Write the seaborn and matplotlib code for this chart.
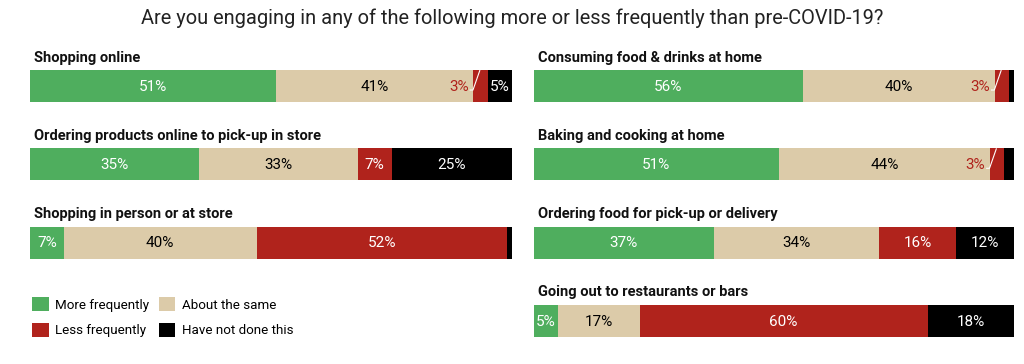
import pandas as pd
import seaborn as sns
import matplotlib.pyplot as plt
from matplotlib.patches import Patch

# ---------------- data ----------------
title = "Are you engaging in any of the following more or less frequently than pre-COVID-19?"
parts = ['More frequently', 'About the same', 'Less frequently', 'Have not done this']
colors = ['#4fae5e', '#dccba9', '#b0231c', '#000000']

left_items = ['Shopping online',
              'Ordering products online to pick-up in store',
              'Shopping in person or at store']
left_more = [51, 35, 7]
left_same = [41, 33, 40]
left_less = [3, 7, 52]
left_never = [5, 25, 1]

right_items = ['Consuming food & drinks at home',
               'Baking and cooking at home',
               'Ordering food for pick-up or delivery',
               'Going out to restaurants or bars']
right_more = [56, 51, 37.4, 5]
right_same = [40, 44, 34.4, 17]
right_less = [3, 3, 16.2, 60]
right_never = [1, 2, 12, 18]

BAR_H = 0.41
label_fonts = ['Liberation Sans Narrow', 'Roboto']


def draw_panel(ax, items, more, same, less, never):
    df = pd.DataFrame({'item': items, parts[0]: more, parts[1]: same,
                       parts[2]: less, parts[3]: never})
    cum = df[parts].cumsum(axis=1)
    cum['item'] = items
    # draw from the longest cumulative bar down so each segment shows
    for part, col in reversed(list(zip(parts, colors))):
        sns.barplot(data=cum, x=part, y='item', order=items, color=col,
                    saturation=1, width=BAR_H, linewidth=0, ax=ax)

    for i, item in enumerate(items):
        ax.text(0.8, i - BAR_H / 2 - 0.07, item, fontsize=10.5, fontweight='bold',
                family=label_fonts, ha='left', va='bottom', color='#111111')
        start = 0
        for j, part in enumerate(parts):
            v = df.loc[i, part]
            y = i
            if v >= 5:
                tc = 'black' if j == 1 else 'white'
                ax.text(start + v / 2, y + 0.01, f"{v:.0f}%", ha='center', va='center',
                        fontsize=11, color=tc, family='Roboto')
            elif j == 2 and v >= 3:
                ax.text(start - 1.0, y + 0.01, f"{v:.0f}%", ha='right', va='center',
                        fontsize=11, color=colors[2], family='Roboto')
                ax.plot([start - 0.8, start - 0.1, start + v * 0.45],
                        [y + 0.05, y + 0.05, y - BAR_H / 2],
                        color='white', lw=0.8, solid_capstyle='butt')
            start += v

    ax.set_xlim(0, 100)
    ax.set_ylim(3.5, -0.5)
    ax.axis('off')


plt.rcParams['font.family'] = ['Roboto', 'DejaVu Sans']
fig = plt.figure(figsize=(10.24, 3.64), dpi=100)
fig.patch.set_facecolor('white')

W, H = 1024, 364
top_px, bot_px = 47, 360
ax_l = fig.add_axes([30 / W, 1 - bot_px / H, 482 / W, (bot_px - top_px) / H])
ax_r = fig.add_axes([534 / W, 1 - bot_px / H, 480 / W, (bot_px - top_px) / H])

draw_panel(ax_l, left_items, left_more, left_same, left_less, left_never)
draw_panel(ax_r, right_items, right_more, right_same, right_less, right_never)

fig.text(0.5, 1 - 18 / H, title, ha='center', va='center', fontsize=14.4,
         color='#222222', family='Roboto')

handles = [Patch(facecolor=colors[k], edgecolor='none') for k in [0, 2, 1, 3]]
labels = [parts[k] for k in [0, 2, 1, 3]]
fig.legend(handles, labels, loc='upper left', bbox_to_anchor=(32 / W, 1 - 297 / H),
           ncol=2, frameon=False, borderpad=0, borderaxespad=0,
           handlelength=1.25, handleheight=1.25, handletextpad=0.5,
           labelspacing=0.85, columnspacing=0.7,
           prop={'family': label_fonts, 'size': 9.6})

fig.savefig('out.png', dpi=100, facecolor='white')
